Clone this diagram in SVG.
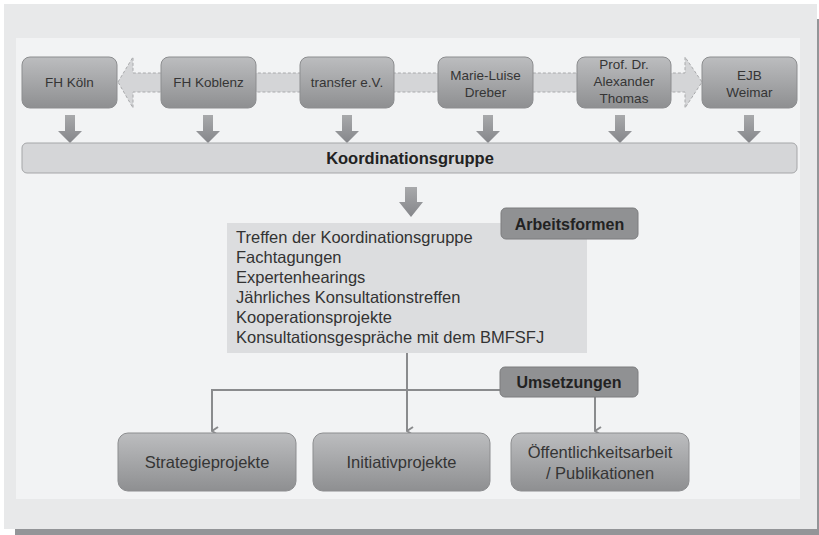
<svg xmlns="http://www.w3.org/2000/svg" width="819" height="535" viewBox="0 0 819 535">
<defs>
<style>
.t{font-family:"Liberation Sans",Arial,sans-serif;fill:#353535;text-anchor:middle}
.n{font-size:13.5px}
.b{font-size:16.5px}
.lbl{font-family:"Liberation Sans",Arial,sans-serif;font-weight:bold;fill:#222;text-anchor:middle;font-size:16px}
.li{font-family:"Liberation Sans",Arial,sans-serif;font-size:16.5px;fill:#333}
.node{fill:url(#g);stroke:#8c8d8f;stroke-width:1}
.tag{fill:#909193;stroke:#7c7d7f;stroke-width:1}
.dn{fill:url(#ga)}
.con{fill:none;stroke:#8a8b8d;stroke-width:2}
</style>
<linearGradient id="g" x1="0" y1="0" x2="0" y2="1">
<stop offset="0" stop-color="#bcbdbf"/>
<stop offset="1" stop-color="#8e8f91"/>
</linearGradient>
<linearGradient id="ga" x1="0" y1="0" x2="0" y2="1">
<stop offset="0" stop-color="#a8a9ab"/>
<stop offset="1" stop-color="#85868a"/>
</linearGradient>
<marker id="ah" viewBox="0 0 10 10" refX="5" refY="9" markerWidth="10" markerHeight="10" markerUnits="userSpaceOnUse" orient="auto-start-reverse">
<path d="M1,3 L5,9 L9,3" fill="none" stroke="#8a8b8d" stroke-width="2"/>
</marker>
<symbol id="darr" overflow="visible">
<path d="M-5,0 H5 V16 H12 L0,28 L-12,16 H-5 Z"/>
</symbol>
</defs>
<rect x="0" y="0" width="819" height="535" fill="#ffffff"/>
<rect x="15" y="19" width="804" height="516" fill="#939598"/>
<rect x="4" y="4" width="813" height="525" fill="#e8e9ea"/>
<rect x="16" y="38" width="784" height="461" fill="#f2f3f4"/>

<g id="connectors">
<path d="M118,82 L133,57 V73 H685 V57 L702,82 L685,108 V92 H133 V108 Z" fill="#d4d5d7" stroke="#a9aaac" stroke-width="1" stroke-dasharray="3,2"/>
<g class="dn">
<use href="#darr" x="70" y="115"/>
<use href="#darr" x="208" y="115"/>
<use href="#darr" x="347" y="115"/>
<use href="#darr" x="488" y="115"/>
<use href="#darr" x="620" y="115"/>
<use href="#darr" x="749" y="115"/>
<path d="M405,187 H417 V202 H423 L411,217 L399,202 H405 Z"/>
</g>
<path class="con" d="M407,353 V431" marker-end="url(#ah)"/>
<path class="con" d="M500,390 H212 V431" marker-end="url(#ah)"/>
<path class="con" d="M595,397 V431" marker-end="url(#ah)"/>
</g>

<g id="n-fhkoeln"><rect class="node" x="22" y="57" width="95" height="51" rx="8"/><text class="t n" x="69.5" y="87">FH Köln</text></g>
<g id="n-fhkoblenz"><rect class="node" x="161" y="57" width="95" height="51" rx="8"/><text class="t n" x="208.5" y="87">FH Koblenz</text></g>
<g id="n-transfer"><rect class="node" x="300" y="57" width="94" height="51" rx="8"/><text class="t n" x="347" y="87">transfer e.V.</text></g>
<g id="n-dreber"><rect class="node" x="438" y="57" width="95" height="51" rx="8"/><text class="t n" x="485.5" y="80">Marie-Luise</text><text class="t n" x="485.5" y="97">Dreber</text></g>
<g id="n-thomas"><rect class="node" x="577" y="57" width="94" height="51" rx="8"/><text class="t n" x="624" y="69">Prof. Dr.</text><text class="t n" x="624" y="86">Alexander</text><text class="t n" x="624" y="103">Thomas</text></g>
<g id="n-ejb"><rect class="node" x="702" y="57" width="95" height="51" rx="8"/><text class="t n" x="749.5" y="80">EJB</text><text class="t n" x="749.5" y="97">Weimar</text></g>

<g id="n-koord"><rect x="22" y="143" width="775" height="30" rx="5" fill="#d5d6d8" stroke="#a5a6a8"/><text class="t" x="410" y="164" style="font-weight:bold;font-size:16.5px;fill:#222">Koordinationsgruppe</text></g>

<g id="n-arbeitsformen">
<rect x="227" y="223" width="360" height="130" fill="#dcdddf"/>
<text class="li" x="236" y="243">Treffen der Koordinationsgruppe</text>
<text class="li" x="236" y="263">Fachtagungen</text>
<text class="li" x="236" y="283">Expertenhearings</text>
<text class="li" x="236" y="303">Jährliches Konsultationstreffen</text>
<text class="li" x="236" y="323">Kooperationsprojekte</text>
<text class="li" x="236" y="343">Konsultationsgespräche mit dem BMFSFJ</text>
<rect class="tag" x="501" y="208" width="137" height="31" rx="5"/>
<text class="lbl" x="569.5" y="229.5">Arbeitsformen</text>
</g>

<g id="n-umsetzungen"><rect class="tag" x="500" y="367" width="138" height="30" rx="5"/><text class="lbl" x="569" y="388">Umsetzungen</text></g>

<g id="n-strategie"><rect class="node" x="118" y="433" width="178" height="58" rx="10"/><text class="t b" x="207" y="468">Strategieprojekte</text></g>
<g id="n-initiativ"><rect class="node" x="313" y="433" width="177" height="58" rx="10"/><text class="t b" x="401.5" y="468">Initiativprojekte</text></g>
<g id="n-oeffentlich"><rect class="node" x="511" y="433" width="178" height="58" rx="10"/><text class="t b" x="600" y="458">Öffentlichkeitsarbeit</text><text class="t b" x="600" y="479">/ Publikationen</text></g>
</svg>
